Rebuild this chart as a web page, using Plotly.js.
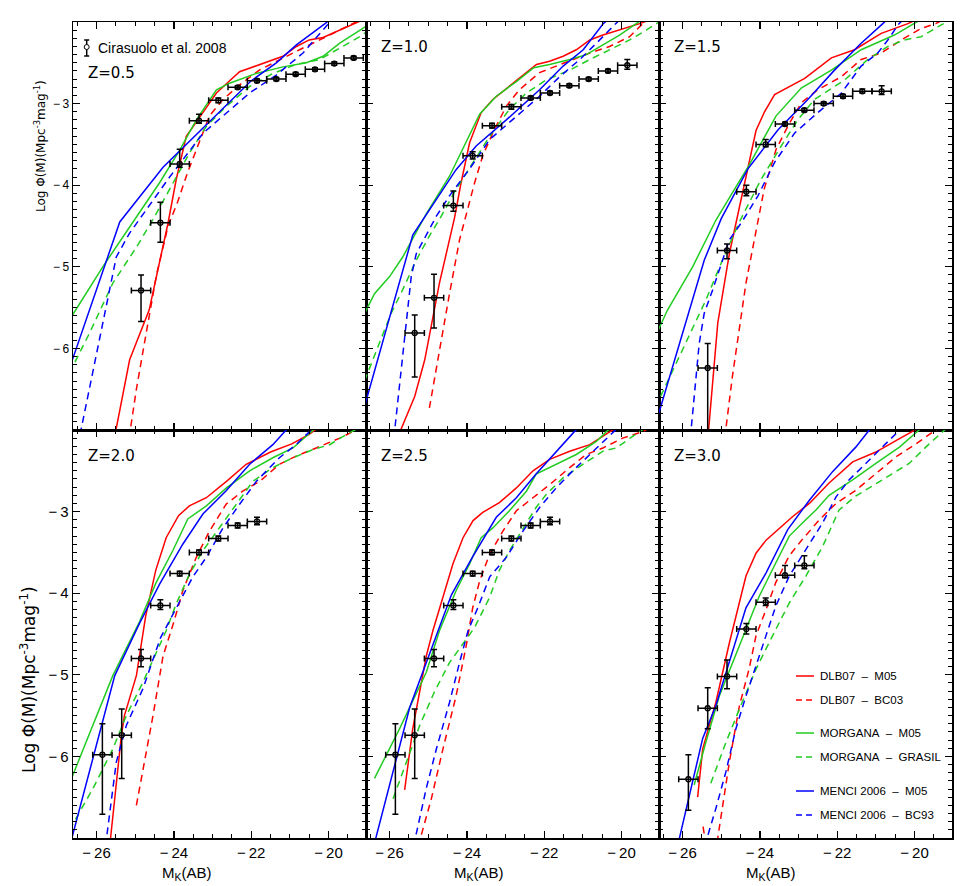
<!DOCTYPE html>
<html><head><meta charset="utf-8">
<script src="https://cdn.plot.ly/plotly-3.0.1.min.js"></script>
<style>html,body{margin:0;padding:0;background:#fff}#chart{width:975px;height:886px}</style>
</head><body><div id="chart"></div>
<script>
// ===== Observations: Cirasuolo et al. 2008 (M_K(AB), log phi, asymmetric errors) =====
const obsBinHalfWidth = 0.25;
const z05_obsM   = [-24.85,-24.35,-23.85,-23.35,-22.85,-22.35,-21.85,-21.35,-20.85,-20.35,-19.85,-19.35];
const z05_obsPhi = [-5.29,-4.46,-3.74,-3.21,-2.96,-2.80,-2.72,-2.70,-2.64,-2.58,-2.51,-2.44];
const z05_errUp  = [0.19,0.25,0.18,0.08,0.03,0.02,0.02,0.02,0.02,0.02,0.02,0.02];
const z05_errLo  = [0.38,0.24,0.04,0.03,0.03,0.02,0.02,0.02,0.02,0.02,0.02,0.02];

const z10_obsM   = [-25.35,-24.85,-24.35,-23.85,-23.35,-22.85,-22.35,-21.85,-21.35,-20.85,-20.35,-19.85];
const z10_obsPhi = [-5.81,-5.38,-4.25,-3.64,-3.27,-3.04,-2.93,-2.87,-2.78,-2.70,-2.60,-2.53];
const z10_errUp  = [0.22,0.29,0.18,0.05,0.03,0.03,0.02,0.02,0.02,0.02,0.02,0.07];
const z10_errLo  = [0.54,0.37,0.07,0.04,0.03,0.03,0.02,0.02,0.02,0.02,0.02,0.05];

const z15_obsM   = [-25.35,-24.85,-24.35,-23.85,-23.35,-22.85,-22.35,-21.85,-21.35,-20.85];
const z15_obsPhi = [-6.24,-4.80,-4.08,-3.50,-3.25,-3.08,-3.00,-2.91,-2.85,-2.85];
const z15_errUp  = [0.30,0.08,0.08,0.06,0.02,0.02,0.02,0.02,0.03,0.07];
const z15_errLo  = [1.20,0.10,0.05,0.03,0.02,0.02,0.02,0.02,0.02,0.04];

const z20_obsM   = [-25.85,-25.35,-24.85,-24.35,-23.85,-23.35,-22.85,-22.35,-21.85];
const z20_obsPhi = [-5.98,-5.74,-4.80,-4.15,-3.76,-3.50,-3.33,-3.17,-3.12];
const z20_errUp  = [0.38,0.32,0.11,0.07,0.03,0.03,0.03,0.03,0.05];
const z20_errLo  = [0.73,0.53,0.10,0.05,0.03,0.03,0.03,0.03,0.04];

const z25_obsM   = [-25.85,-25.35,-24.85,-24.35,-23.85,-23.35,-22.85,-22.35,-21.85];
const z25_obsPhi = [-5.98,-5.74,-4.80,-4.15,-3.76,-3.50,-3.33,-3.17,-3.12];
const z25_errUp  = [0.38,0.32,0.11,0.07,0.03,0.03,0.03,0.03,0.05];
const z25_errLo  = [0.73,0.53,0.10,0.05,0.03,0.03,0.03,0.03,0.04];

const z30_obsM   = [-25.85,-25.35,-24.85,-24.35,-23.85,-23.35,-22.85];
const z30_obsPhi = [-6.28,-5.41,-5.02,-4.44,-4.11,-3.78,-3.66];
const z30_errUp  = [0.30,0.25,0.20,0.07,0.05,0.12,0.12];
const z30_errLo  = [0.38,0.25,0.15,0.06,0.04,0.03,0.04];

// ===== Models, z = 0.5 =====
const z05_dlbM05_M = [-25.54,-25.145,-24.64,-24.15,-23.94,-23.68,-23.38,-22.90,-22.30,-21.87,-21.44,-21.18,-20.83,-20.5,-20.14,-19.70,-19.32,-19.0];
const z05_dlbM05_P = [-7.1,-6.14,-5.53,-4.46,-3.93,-3.40,-3.20,-2.87,-2.61,-2.54,-2.47,-2.42,-2.30,-2.22,-2.19,-2.10,-2.02,-1.95];
const z05_dlbBC03_M = [-25.16,-24.97,-24.76,-24.45,-24.15,-23.90,-23.65,-23.34,-23.08,-22.73,-22.30,-21.79,-21.27,-20.75,-20.06,-19.54,-19.2];
const z05_dlbBC03_P = [-7.1,-6.50,-5.93,-5.10,-4.50,-4.20,-3.85,-3.48,-3.15,-2.95,-2.77,-2.59,-2.46,-2.34,-2.18,-2.06,-1.98];
const z05_morM05_M = [-26.7,-25.84,-24.97,-24.37,-23.85,-23.42,-22.90,-22.56,-21.87,-21.18,-20.57,-20.14,-19.71,-19.02,-18.9];
const z05_morM05_P = [-5.65,-5.0,-4.39,-3.97,-3.57,-3.20,-2.83,-2.75,-2.63,-2.55,-2.50,-2.42,-2.26,-2.05,-2.0];
const z05_morGRA_M = [-26.7,-26.18,-25.58,-24.97,-24.54,-24.11,-23.59,-23.16,-22.64,-22.04,-21.44,-20.83,-20.23,-19.71,-19.19,-18.9];
const z05_morGRA_P = [-6.3,-5.81,-5.20,-4.76,-4.42,-4.04,-3.60,-3.28,-3.03,-2.79,-2.63,-2.52,-2.46,-2.32,-2.18,-2.08];
const z05_menM05_M = [-26.8,-25.40,-24.28,-23.85,-22.0,-21.35,-20.83,-20.09,-19.9];
const z05_menM05_P = [-6.38,-4.45,-3.78,-3.58,-2.72,-2.50,-2.28,-2.02,-1.95];
const z05_menBC93_M = [-26.49,-25.49,-25.15,-24.54,-24.11,-23.24,-22.73,-22.04,-21.35,-20.66,-20.0,-19.8];
const z05_menBC93_P = [-7.2,-4.88,-4.59,-4.19,-3.90,-3.36,-3.15,-2.87,-2.65,-2.38,-2.02,-1.93];

// ===== Models, z = 1.0 =====
const z10_dlbM05_M = [-25.80,-25.35,-25.09,-24.71,-24.32,-24.15,-23.93,-23.63,-23.33,-22.81,-22.20,-21.86,-21.51,-21.17,-20.82,-20.48,-20.05,-19.53,-19.3];
const z10_dlbM05_P = [-7.1,-6.59,-6.14,-5.20,-4.40,-3.97,-3.48,-3.11,-2.95,-2.75,-2.52,-2.48,-2.42,-2.34,-2.22,-2.16,-2.10,-2.02,-1.98];
const z10_dlbBC03_M = [-24.97,-24.71,-24.45,-24.19,-23.95,-23.80,-23.59,-23.33,-22.98,-22.64,-22.12,-21.69,-21.26,-20.82,-20.31,-19.79,-19.45,-19.3];
const z10_dlbBC03_P = [-6.73,-6.02,-5.33,-4.67,-4.25,-3.97,-3.64,-3.36,-3.03,-2.83,-2.62,-2.54,-2.46,-2.38,-2.30,-2.18,-2.02,-1.96];
const z10_morM05_M = [-26.7,-26.39,-26.0,-25.66,-25.05,-24.45,-23.67,-23.24,-22.72,-22.27,-21.86,-21.34,-20.91,-20.47,-20.05,-19.62,-19.4];
const z10_morM05_P = [-5.62,-5.33,-5.12,-4.88,-4.35,-3.89,-3.13,-2.91,-2.73,-2.56,-2.52,-2.46,-2.40,-2.28,-2.16,-2.02,-1.95];
const z10_morGRA_M = [-26.65,-25.96,-25.66,-25.31,-24.97,-24.71,-24.28,-23.84,-23.41,-22.90,-22.46,-21.95,-21.34,-20.82,-20.31,-19.79,-19.36,-19.0];
const z10_morGRA_P = [-6.40,-5.57,-5.28,-4.92,-4.62,-4.42,-4.05,-3.72,-3.40,-3.07,-2.87,-2.71,-2.59,-2.46,-2.34,-2.22,-2.10,-1.99];
const z10_menM05_M = [-26.7,-25.40,-24.28,-23.76,-22.98,-22.12,-21.51,-20.99,-20.47,-20.3];
const z10_menM05_P = [-6.80,-4.61,-3.81,-3.52,-3.20,-2.83,-2.54,-2.34,-2.02,-1.95];
const z10_menBC93_M = [-25.89,-25.65,-25.44,-25.31,-24.79,-24.45,-23.93,-23.41,-22.72,-22.12,-21.60,-21.08,-20.65,-20.14,-20.0];
const z10_menBC93_P = [-7.1,-6.06,-5.12,-4.84,-4.38,-4.13,-3.80,-3.44,-3.15,-2.91,-2.67,-2.46,-2.26,-2.02,-1.95];

// ===== Models, z = 1.5 =====
const z15_dlbM05_M = [-25.345,-25.09,-24.79,-24.53,-24.28,-24.10,-23.88,-23.62,-22.84,-22.15,-21.55,-20.86,-20.17,-19.9];
const z15_dlbM05_P = [-7.1,-5.69,-4.84,-4.27,-3.74,-3.33,-3.10,-2.89,-2.69,-2.44,-2.34,-2.14,-2.02,-1.96];
const z15_dlbBC03_M = [-24.91,-24.71,-24.36,-24.10,-23.89,-23.58,-23.28,-22.93,-22.50,-21.89,-21.38,-20.86,-20.34,-19.83,-19.45,-19.2];
const z15_dlbBC03_P = [-7.1,-6.34,-5.20,-4.55,-4.05,-3.56,-3.28,-2.99,-2.83,-2.67,-2.46,-2.38,-2.22,-2.08,-2.02,-1.96];
const z15_morM05_M = [-26.7,-26.39,-25.74,-25.14,-24.62,-24.31,-23.58,-22.93,-22.15,-21.38,-20.52,-20.0,-19.8];
const z15_morM05_P = [-5.85,-5.53,-5.0,-4.43,-4.02,-3.78,-3.15,-2.81,-2.59,-2.34,-2.16,-2.02,-1.96];
const z15_morGRA_M = [-26.7,-26.0,-25.40,-24.97,-24.53,-24.10,-23.97,-23.45,-23.02,-22.59,-21.81,-21.21,-20.69,-20.26,-19.83,-19.40,-19.1];
const z15_morGRA_P = [-6.72,-6.02,-5.41,-4.92,-4.45,-4.05,-3.93,-3.52,-3.20,-2.95,-2.71,-2.46,-2.30,-2.22,-2.18,-2.06,-1.98];
const z15_menM05_M = [-26.7,-25.44,-25.0,-24.31,-23.53,-22.76,-22.07,-21.38,-20.82,-20.6];
const z15_menM05_P = [-6.93,-4.92,-4.41,-3.80,-3.32,-2.95,-2.59,-2.26,-2.02,-1.92];
const z15_menBC93_M = [-25.80,-25.57,-25.44,-25.22,-24.79,-24.48,-24.05,-23.62,-23.10,-22.50,-21.89,-21.38,-20.95,-20.69,-20.4,-20.25];
const z15_menBC93_P = [-7.1,-5.94,-5.57,-5.28,-4.67,-4.46,-4.13,-3.72,-3.36,-3.11,-2.87,-2.54,-2.38,-2.22,-2.02,-1.95];

// ===== Models, z = 2.0 =====
const z20_dlbM05_M = [-25.66,-25.55,-25.36,-25.28,-24.97,-24.73,-24.47,-24.20,-23.88,-23.60,-23.16,-22.64,-22.13,-21.5,-20.95,-20.49,-20.3];
const z20_dlbM05_P = [-7.1,-6.6,-5.75,-5.50,-5.01,-4.28,-3.72,-3.32,-3.05,-2.93,-2.83,-2.63,-2.42,-2.27,-2.17,-2.05,-1.98];
const z20_dlbBC03_M = [-24.97,-24.76,-24.54,-24.28,-24.0,-23.77,-23.42,-23.08,-22.65,-22.22,-21.78,-21.27,-20.84,-20.32,-19.71,-19.37,-19.2];
const z20_dlbBC03_P = [-6.60,-6.07,-5.50,-4.77,-4.35,-3.97,-3.56,-3.24,-2.91,-2.75,-2.63,-2.42,-2.32,-2.22,-2.10,-2.02,-1.96];
const z20_morM05_M = [-26.7,-25.58,-24.89,-24.46,-24.03,-23.64,-23.16,-22.64,-22.04,-21.44,-20.92,-20.49,-20.3];
const z20_morM05_P = [-6.33,-5.01,-4.35,-3.87,-3.48,-3.09,-2.93,-2.71,-2.50,-2.34,-2.22,-2.04,-1.96];
const z20_morGRA_M = [-26.7,-26.09,-25.58,-25.23,-24.80,-24.20,-23.94,-23.60,-23.25,-22.82,-22.39,-21.96,-21.44,-20.92,-20.40,-19.97,-19.63,-19.37,-19.2];
const z20_morGRA_P = [-6.9,-6.39,-5.91,-5.50,-5.09,-4.46,-4.13,-3.77,-3.48,-3.20,-2.91,-2.63,-2.46,-2.34,-2.24,-2.18,-2.08,-2.02,-1.97];
const z20_menM05_M = [-26.7,-25.53,-24.89,-24.37,-23.77,-23.25,-22.66,-22.04,-21.44,-21.13,-21.0];
const z20_menM05_P = [-7.11,-5.01,-4.37,-3.89,-3.40,-3.03,-2.75,-2.42,-2.18,-2.02,-1.95];
const z20_menBC93_M = [-25.77,-25.49,-25.23,-24.80,-24.35,-23.94,-23.51,-23.16,-22.73,-22.30,-21.87,-21.27,-20.84,-20.49,-20.3];
const z20_menBC93_P = [-7.1,-6.07,-5.62,-5.17,-4.55,-4.18,-3.80,-3.56,-3.20,-2.91,-2.63,-2.34,-2.18,-2.02,-1.94];

// ===== Models, z = 2.5 =====
const z25_dlbM05_M = [-25.61,-25.40,-25.05,-24.88,-24.62,-24.36,-24.10,-23.84,-23.59,-23.16,-22.72,-22.29,-21.86,-21.34,-20.82,-20.30,-20.1];
const z25_dlbM05_P = [-6.41,-5.66,-4.77,-4.46,-4.05,-3.64,-3.32,-3.11,-3.01,-2.89,-2.71,-2.50,-2.36,-2.26,-2.18,-2.02,-1.96];
const z25_dlbBC03_M = [-25.26,-24.92,-24.62,-24.28,-24.02,-23.85,-23.67,-23.41,-23.07,-22.72,-22.29,-21.86,-21.34,-20.91,-20.48,-19.97,-19.45,-19.2];
const z25_dlbBC03_P = [-7.1,-6.52,-5.91,-5.26,-4.65,-4.18,-3.85,-3.52,-3.24,-2.99,-2.83,-2.67,-2.46,-2.30,-2.22,-2.10,-2.02,-1.95];
const z25_morM05_M = [-26.39,-25.74,-25.05,-24.71,-24.28,-23.93,-23.63,-23.33,-22.90,-22.46,-22.21,-21.69,-21.17,-20.65,-20.39,-20.2];
const z25_morM05_P = [-6.27,-5.66,-4.97,-4.46,-3.97,-3.64,-3.32,-3.20,-2.99,-2.75,-2.54,-2.42,-2.30,-2.14,-2.02,-1.95];
const z25_morGRA_M = [-25.91,-25.57,-25.22,-24.85,-24.45,-24.10,-23.80,-23.41,-23.16,-22.90,-22.64,-22.21,-21.95,-21.52,-21.0,-20.48,-20.14,-19.79,-19.53,-19.3];
const z25_morGRA_P = [-6.52,-6.07,-5.62,-5.22,-4.85,-4.62,-4.42,-4.05,-3.72,-3.48,-3.28,-2.95,-2.79,-2.59,-2.42,-2.26,-2.22,-2.10,-2.02,-1.95];
const z25_menM05_M = [-26.41,-25.48,-24.40,-23.86,-23.24,-22.72,-22.21,-21.69,-21.22,-21.0];
const z25_menM05_P = [-7.1,-5.40,-4.02,-3.56,-3.07,-2.83,-2.54,-2.26,-2.02,-1.92];
const z25_menBC93_M = [-25.38,-25.05,-24.79,-24.45,-24.19,-23.97,-23.71,-23.41,-22.98,-22.55,-22.12,-21.69,-21.26,-20.82,-20.48,-20.22,-20.0];
const z25_menBC93_P = [-7.1,-6.39,-5.91,-5.34,-4.85,-4.46,-4.17,-3.80,-3.56,-3.24,-2.95,-2.71,-2.50,-2.30,-2.14,-2.02,-1.93];

// ===== Models, z = 3.0 =====
const z30_dlbM05_M = [-25.61,-25.48,-25.14,-24.79,-24.36,-24.10,-23.84,-23.15,-22.72,-22.21,-21.60,-21.0,-20.48,-19.96,-19.8];
const z30_dlbM05_P = [-6.50,-5.91,-5.34,-4.61,-3.79,-3.51,-3.35,-3.06,-2.90,-2.65,-2.39,-2.27,-2.13,-2.0,-1.95];
const z30_dlbBC03_M = [-25.47,-25.36,-25.15,-25.09,-24.79,-24.53,-24.28,-24.10,-23.84,-23.59,-23.24,-22.90,-22.46,-22.03,-21.52,-21.0,-20.48,-19.96,-19.45,-19.3];
const z30_dlbBC03_P = [-6.86,-7.2,-7.2,-7.0,-6.07,-5.38,-4.93,-4.52,-4.20,-3.87,-3.54,-3.34,-3.10,-2.90,-2.74,-2.53,-2.33,-2.17,-2.0,-1.95];
const z30_morM05_M = [-25.70,-25.40,-25.05,-24.71,-24.36,-24.02,-23.59,-23.24,-22.90,-22.55,-22.21,-21.60,-21.0,-20.39,-19.88,-19.7];
const z30_morM05_P = [-6.35,-5.83,-5.26,-4.85,-4.44,-4.04,-3.63,-3.30,-3.14,-2.98,-2.80,-2.61,-2.41,-2.21,-2.0,-1.93];
const z30_morGRA_M = [-25.27,-24.88,-24.53,-24.10,-23.67,-23.24,-22.81,-22.38,-21.95,-21.52,-20.83,-20.14,-19.62,-19.23,-19.1];
const z30_morGRA_P = [-6.33,-5.83,-5.42,-4.93,-4.52,-4.12,-3.79,-3.43,-2.98,-2.81,-2.61,-2.41,-2.17,-2.0,-1.95];
const z30_menM05_M = [-26.13,-25.48,-25.14,-24.79,-24.36,-23.84,-23.28,-22.72,-22.12,-21.52,-21.17,-21.0];
const z30_menM05_P = [-7.1,-5.78,-5.38,-4.85,-4.18,-3.75,-3.22,-2.86,-2.51,-2.21,-2.0,-1.92];
const z30_menBC93_M = [-25.43,-25.14,-24.88,-24.62,-24.36,-24.02,-23.59,-23.24,-22.81,-22.38,-22.03,-21.69,-21.26,-20.83,-20.48,-20.3];
const z30_menBC93_P = [-7.1,-6.64,-6.19,-5.66,-5.26,-4.77,-4.16,-3.79,-3.47,-3.14,-2.82,-2.61,-2.41,-2.21,-2.04,-1.96];

// ===== Labels =====
const panelLabels = ['Z=0.5','Z=1.0','Z=1.5','Z=2.0','Z=2.5','Z=3.0'];
const modelNames = ['DLB07 \u2013 M05','DLB07 \u2013 BC03','MORGANA \u2013 M05','MORGANA \u2013 GRASIL','MENCI 2006 \u2013 M05','MENCI 2006 \u2013 BC93'];
const obsName = 'Cirasuolo et al. 2008';
const xTickVals = [-26,-24,-22,-20];
const xTickText = ['\u2212\u200926','\u2212\u200924','\u2212\u200922','\u2212\u200920'];
const yTickVals = [-6,-5,-4,-3];
const yTickText = ['\u2212\u20096','\u2212\u20095','\u2212\u20094','\u2212\u20093'];
const xRange = [-26.61,-19.03];
const yRange = [-7,-2];

// ===== Styling =====
const RED = '#ff0000', GREEN = '#22cc22', BLUE = '#0000ff';
const DASH = '7px,5px';
const modelStyles = [
  {color: RED, dash: 'solid'}, {color: RED, dash: DASH},
  {color: GREEN, dash: 'solid'}, {color: GREEN, dash: DASH},
  {color: BLUE, dash: 'solid'}, {color: BLUE, dash: DASH}
];

const panels = [
  {obs: [z05_obsM, z05_obsPhi, z05_errUp, z05_errLo], models: [[z05_dlbM05_M,z05_dlbM05_P],[z05_dlbBC03_M,z05_dlbBC03_P],[z05_morM05_M,z05_morM05_P],[z05_morGRA_M,z05_morGRA_P],[z05_menM05_M,z05_menM05_P],[z05_menBC93_M,z05_menBC93_P]]},
  {obs: [z10_obsM, z10_obsPhi, z10_errUp, z10_errLo], models: [[z10_dlbM05_M,z10_dlbM05_P],[z10_dlbBC03_M,z10_dlbBC03_P],[z10_morM05_M,z10_morM05_P],[z10_morGRA_M,z10_morGRA_P],[z10_menM05_M,z10_menM05_P],[z10_menBC93_M,z10_menBC93_P]]},
  {obs: [z15_obsM, z15_obsPhi, z15_errUp, z15_errLo], models: [[z15_dlbM05_M,z15_dlbM05_P],[z15_dlbBC03_M,z15_dlbBC03_P],[z15_morM05_M,z15_morM05_P],[z15_morGRA_M,z15_morGRA_P],[z15_menM05_M,z15_menM05_P],[z15_menBC93_M,z15_menBC93_P]]},
  {obs: [z20_obsM, z20_obsPhi, z20_errUp, z20_errLo], models: [[z20_dlbM05_M,z20_dlbM05_P],[z20_dlbBC03_M,z20_dlbBC03_P],[z20_morM05_M,z20_morM05_P],[z20_morGRA_M,z20_morGRA_P],[z20_menM05_M,z20_menM05_P],[z20_menBC93_M,z20_menBC93_P]]},
  {obs: [z25_obsM, z25_obsPhi, z25_errUp, z25_errLo], models: [[z25_dlbM05_M,z25_dlbM05_P],[z25_dlbBC03_M,z25_dlbBC03_P],[z25_morM05_M,z25_morM05_P],[z25_morGRA_M,z25_morGRA_P],[z25_menM05_M,z25_menM05_P],[z25_menBC93_M,z25_menBC93_P]]},
  {obs: [z30_obsM, z30_obsPhi, z30_errUp, z30_errLo], models: [[z30_dlbM05_M,z30_dlbM05_P],[z30_dlbBC03_M,z30_dlbBC03_P],[z30_morM05_M,z30_morM05_P],[z30_morGRA_M,z30_morGRA_P],[z30_menM05_M,z30_menM05_P],[z30_menBC93_M,z30_menBC93_P]]}
];

// ===== Build =====
const W = 975, H = 886;
const M = {l: 73, r: 23, t: 22, b: 48};
const plotW = W - M.l - M.r, plotH = H - M.t - M.b;
const px = v => (v - M.l) / plotW;
const py = v => (H - M.b - v) / plotH;
const FONT = 'Liberation Sans, Arial, sans-serif';
const WIDEFONT = 'DejaVu Sans, Liberation Sans, sans-serif';

const traces = [];
const layout = {
  width: W, height: H, margin: M, showlegend: false,
  paper_bgcolor: 'white', plot_bgcolor: 'white',
  font: {family: FONT, color: 'black'},
  annotations: [], shapes: []
};

panels.forEach((p, i) => {
  const n = i + 1, col = i % 3, row = i < 3 ? 0 : 1;
  const xk = 'x' + (n === 1 ? '' : n), yk = 'y' + (n === 1 ? '' : n);
  p.models.forEach((m, k) => {
    traces.push({
      type: 'scatter', mode: 'lines', x: m[0], y: m[1], xaxis: xk, yaxis: yk,
      line: {color: modelStyles[k].color, dash: modelStyles[k].dash, width: 1.5},
      hoverinfo: 'skip'
    });
  });
  traces.push({
    type: 'scatter', mode: 'markers', x: p.obs[0], y: p.obs[1], xaxis: xk, yaxis: yk,
    marker: {symbol: 'circle-open', size: 5, color: 'black', line: {width: 1.3, color: 'black'}},
    error_y: {type: 'data', symmetric: false, array: p.obs[2], arrayminus: p.obs[3], color: 'black', thickness: 1.5, width: 3},
    error_x: {type: 'constant', value: obsBinHalfWidth, color: 'black', thickness: 1.5, width: 3}
  });
  const common = {
    ticks: 'inside', ticklen: 7, tickwidth: 1.3, tickcolor: 'black',
    mirror: 'ticks', showline: true, linewidth: 1.5, linecolor: 'black',
    showgrid: false, zeroline: false
  };
  layout['xaxis' + (n === 1 ? '' : n)] = Object.assign({}, common, {
    domain: [col / 3, (col + 1) / 3], anchor: yk, range: xRange,
    tickmode: 'array', tickvals: xTickVals, ticktext: xTickText, showticklabels: row === 1,
    tickfont: {size: 15},
    minor: {tickmode: 'linear', tick0: -26, dtick: 0.5, ticks: 'inside', ticklen: 4, tickwidth: 1, tickcolor: 'black'}
  });
  layout['yaxis' + (n === 1 ? '' : n)] = Object.assign({}, common, {
    domain: row === 0 ? [0.5, 1] : [0, 0.5], anchor: xk, range: yRange,
    tickmode: 'array', tickvals: yTickVals, ticktext: yTickText, showticklabels: col === 0,
    tickfont: {size: row === 0 ? 12 : 15},
    minor: {tickmode: 'linear', tick0: -7, dtick: 0.1, ticks: 'inside', ticklen: 4, tickwidth: 1, tickcolor: 'black'}
  });
  // panel label
  const labY = row === 0 ? (i === 0 ? 73 : 47) : 456;
  layout.annotations.push({
    xref: 'paper', yref: 'paper', x: px(73 + col * 293 + 13), y: py(labY),
    xanchor: 'left', yanchor: 'middle', showarrow: false, text: panelLabels[i],
    font: {size: 15, family: WIDEFONT}
  });
  if (row === 1) {
    layout.annotations.push({
      xref: 'paper', yref: 'paper', x: px(187 + col * 292), y: py(873),
      xanchor: 'center', yanchor: 'middle', showarrow: false,
      text: 'M<sub>K</sub>(AB)', font: {size: 15}
    });
  }
});

// y-axis titles
layout.annotations.push({
  xref: 'paper', yref: 'paper', x: px(40), y: py(146), textangle: -90,
  xanchor: 'center', yanchor: 'middle', showarrow: false,
  text: 'Log \u03A6(M)(Mpc<sup>-3</sup>mag<sup>-1</sup>)', font: {size: 12, family: WIDEFONT}
});
layout.annotations.push({
  xref: 'paper', yref: 'paper', x: px(28), y: py(680), textangle: -90,
  xanchor: 'center', yanchor: 'middle', showarrow: false,
  text: 'Log \u03A6(M)(Mpc<sup>-3</sup>mag<sup>-1</sup>)', font: {size: 17, family: WIDEFONT}
});

// Observation key (top-left panel)
const kx = 86.7;
layout.shapes.push({type: 'line', xref: 'paper', yref: 'paper', x0: px(kx), x1: px(kx), y0: py(40), y1: py(56), line: {color: 'black', width: 1.5}});
layout.shapes.push({type: 'line', xref: 'paper', yref: 'paper', x0: px(kx - 2.5), x1: px(kx + 2.5), y0: py(40), y1: py(40), line: {color: 'black', width: 1.5}});
layout.shapes.push({type: 'line', xref: 'paper', yref: 'paper', x0: px(kx - 2.5), x1: px(kx + 2.5), y0: py(56), y1: py(56), line: {color: 'black', width: 1.5}});
layout.shapes.push({type: 'circle', xref: 'paper', yref: 'paper', x0: px(kx - 2.5), x1: px(kx + 2.5), y0: py(49.5), y1: py(44.5), fillcolor: 'white', line: {color: 'black', width: 1}});
layout.annotations.push({
  xref: 'paper', yref: 'paper', x: px(96), y: py(48), xanchor: 'left', yanchor: 'middle',
  showarrow: false, text: obsName, font: {size: 14}
});

// Model key (bottom-right panel)
const keyRows = [676, 700, 733, 757, 791, 815];
const GAP = '\u00a0\u00a0';
modelNames.forEach((name, k) => {
  layout.shapes.push({type: 'line', xref: 'paper', yref: 'paper', x0: px(796), x1: px(814), y0: py(keyRows[k]), y1: py(keyRows[k]),
    line: {color: modelStyles[k].color, dash: modelStyles[k].dash === 'solid' ? 'solid' : '6px,4px', width: 1.5}});
  layout.annotations.push({
    xref: 'paper', yref: 'paper', x: px(818), y: py(keyRows[k]), xanchor: 'left', yanchor: 'middle',
    showarrow: false, text: name.replace(' \u2013 ', GAP + '\u2013' + GAP), font: {size: 11.5}
  });
});

Plotly.newPlot('chart', traces, layout, {displayModeBar: false, staticPlot: true});
</script>
</body></html>
